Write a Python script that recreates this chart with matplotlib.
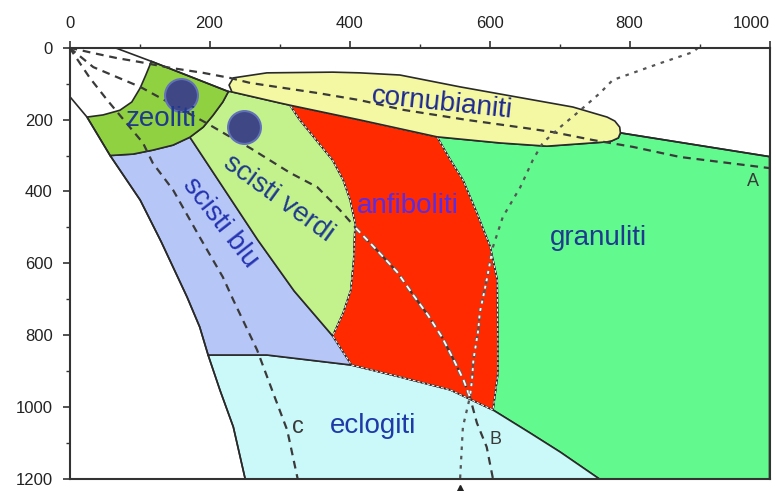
import matplotlib
matplotlib.use("Agg")
import matplotlib.pyplot as plt
import matplotlib.patheffects as pe
from matplotlib.patches import Polygon
from matplotlib.ticker import MultipleLocator

plt.rcParams['font.family'] = ['Liberation Sans', 'DejaVu Sans']

# facies boundaries, points as (temperature, depth)
top_line = [(65, 0), (117, 38), (227, 122)]
left_line = [(0, 135), (25, 193), (58, 300)]
zeo_top = [(25, 193), (48, 187), (72, 174), (89, 151), (101, 112), (109, 76), (117, 38)]
zeo_bot = [(58, 300), (91, 296), (119, 285), (148, 271), (172, 249), (191, 221),
           (205, 188), (219, 151), (227, 122)]
verdi_blu = [(172, 249), (269, 535), (321, 677), (376, 802)]
verdi_anf = [(315, 160), (329, 201), (376, 313), (391, 368), (401, 424), (408, 488),
             (406, 591), (402, 674), (391, 738), (376, 802)]
blu_left = [(58, 300), (101, 424), (131, 540), (168, 694), (186, 777), (198, 855)]
eclog_top = [(198, 855), (282, 855), (403, 883), (472, 916), (544, 952), (605, 1008)]
eclog_gran = [(605, 1008), (658, 1072), (701, 1125), (757, 1200)]
eclog_left = [(198, 855), (215, 953), (234, 1055), (251, 1200)]
anf_gran = [(525, 248), (544, 312), (562, 368), (582, 460), (601, 554), (611, 646),
            (612, 833), (612, 905), (605, 1008)]
corn_top = [(228, 104), (234, 84), (282, 70), (376, 68), (415, 70), (472, 76), (558, 109),
            (719, 165), (768, 193), (779, 204), (786, 221), (787, 237), (784, 251)]
corn_bot = [(232, 123), (301, 154), (315, 160), (415, 201), (525, 248), (615, 265),
            (682, 274), (768, 262), (775, 259), (784, 251)]
gran_top = [(787, 237), (1000, 303)]

# reaction / geotherm curves
curve_a = [(0, 0), (34, 15), (68, 29), (101, 40), (144, 56), (191, 70), (229, 84), (258, 98),
           (354, 126), (415, 146), (477, 173), (568, 201), (653, 224), (691, 235), (748, 257),
           (805, 276), (872, 304), (1000, 335)]
curve_b = [(0, 0), (34, 54), (68, 82), (101, 109), (196, 210), (225, 243), (258, 279),
           (315, 348), (354, 388), (386, 451), (412, 508), (439, 563), (468, 624), (491, 688),
           (512, 744), (532, 805), (549, 869), (563, 925), (572, 972), (582, 1044),
           (596, 1111), (605, 1200)]
curve_c = [(0, 0), (29, 84), (54, 146), (105, 265), (119, 321), (148, 396), (186, 527),
           (219, 638), (234, 702), (268, 841), (291, 961), (311, 1064), (326, 1200)]
curve_d = [(898, 0), (891, 12), (844, 43), (805, 70), (776, 90), (758, 126), (725, 182),
           (701, 221), (676, 265), (662, 312), (644, 388), (619, 471), (605, 554), (596, 646),
           (591, 693), (586, 738), (584, 785), (577, 869), (575, 925), (572, 972),
           (562, 1055), (558, 1200)]

dots_t = [159, 249]
dots_p = [132, 221]

labels = [
    ("zeoliti", 131, 218, 0, 'baseline', '#1f3a8c'),
    ("cornubianiti", 532, 154, -6, 'center', '#1f2a90'),
    ("scisti verdi", 298, 418, -36, 'center', '#1f3a8c'),
    ("scisti blu", 215, 488, -52, 'center', '#2433b0'),
    ("anfiboliti", 484, 460, 0, 'baseline', '#5a2ee0'),
    ("granuliti", 756, 549, 0, 'baseline', '#1f3a8c'),
    ("eclogiti", 433, 1072, 0, 'baseline', '#1f3aa8'),
]
curve_names = [("A", 976, 373, 13), ("B", 608, 1090, 13), ("c", 326, 1055, 17)]

zeolite = zeo_top + [(227, 122)] + zeo_bot[::-1][1:]
verdi = zeo_bot[4:] + corn_bot[:2] + verdi_anf + verdi_blu[::-1][1:-1]
blu = zeo_bot[:5] + verdi_blu[1:] + [(403, 883)] + eclog_top[:2][::-1] + blu_left[::-1][1:-1]
anf = corn_bot[2:5] + anf_gran[1:] + eclog_top[2:5][::-1] + [(376, 802)] + verdi_anf[::-1][1:-1]
eclog = eclog_top + eclog_gran[1:] + eclog_left[::-1][:-1]
gran = anf_gran + eclog_gran[1:] + [(1000, 1200), (1000, 303), (787, 237)] + corn_bot[4:][::-1]
corn = corn_top + corn_bot[::-1][1:]

fig = plt.figure(figsize=(7.76, 4.91), dpi=100)
ax = fig.add_axes([69.5 / 776, 12 / 491, 700 / 776, 431.3 / 491])
ax.set_xlim(0, 1000)
ax.set_ylim(1200, 0)

edge = '#2a2a2a'
fills = [(gran, '#62f98e'), (eclog, '#cbf9f9'), (blu, '#b6c6f6'), (verdi, '#c3f28c'),
         (zeolite, '#8fd140'), (anf, '#ff2a00')]
patches = {}
for pts, col in fills:
    p = Polygon(pts, closed=True, facecolor=col, edgecolor=edge, lw=1.2, zorder=1)
    ax.add_patch(p)
    patches[col] = p
red = patches['#ff2a00']
ax.add_patch(Polygon(anf, closed=True, fill=False, edgecolor='white', lw=0.7,
                     ls=(0, (3, 2)), zorder=1.5))

for line in (top_line, left_line + blu_left[1:] + eclog_left[1:], gran_top):
    ax.plot(*zip(*line), color=edge, lw=1.2, zorder=2)

ax.add_patch(Polygon(corn, closed=True, facecolor='#f5f8a2', edgecolor=edge, lw=1.2, zorder=2))

for cv in (curve_a, curve_b, curve_c):
    ax.plot(*zip(*cv), color='#3a3a3a', lw=1.6, ls=(0, (3.5, 2.6)), zorder=3)
ax.plot(*zip(*curve_d), color='#555555', lw=1.6, ls=(0, (1.6, 2.6)), zorder=3)

# curves crossing the red field are drawn white
for cv, dash in ((curve_b, (3.5, 2.6)), (curve_d, (1.6, 2.6))):
    ln, = ax.plot(*zip(*cv), color='white', lw=1.3, ls=(0, dash), zorder=3.5,
                  path_effects=[pe.Stroke(linewidth=2.6, foreground='#666666'), pe.Normal()])
    ln.set_clip_path(red)

ax.plot([558], [1225], marker='^', color='#222222', ms=5, clip_on=False, zorder=4)

ax.scatter(dots_t, dots_p, s=560, c='#3f4785', edgecolors='#6272ba', linewidths=1.5, zorder=6)

for txt, t, p, rot, va, col in labels:
    ax.text(t, p, txt, fontsize=20, color=col, rotation=rot, rotation_mode='anchor',
            ha='center', va=va, zorder=7)
for txt, t, p, fs in curve_names:
    ax.text(t, p, txt, fontsize=fs, color='#3a3a3a', ha='center', va='center', zorder=7)

ax.xaxis.tick_top()
ax.xaxis.set_label_position('top')
ax.xaxis.set_major_locator(MultipleLocator(200))
ax.xaxis.set_minor_locator(MultipleLocator(100))
ax.yaxis.set_major_locator(MultipleLocator(200))
ax.yaxis.set_minor_locator(MultipleLocator(100))
ax.tick_params(which='major', direction='out', length=5, width=1.2, labelsize=12,
               color='#333333', labelcolor='#222222', pad=7)
ax.tick_params(which='minor', direction='out', length=3, width=1.0, color='#333333')
for s in ax.spines.values():
    s.set_linewidth(1.5)
    s.set_color('#333333')
    s.set_zorder(8)

# last top label sits inside the figure, right-aligned on its tick
fig.canvas.draw()
for lab in ax.xaxis.get_ticklabels():
    if lab.get_text() == '1000':
        lab.set_horizontalalignment('right')

fig.savefig('out.png', dpi=100)
